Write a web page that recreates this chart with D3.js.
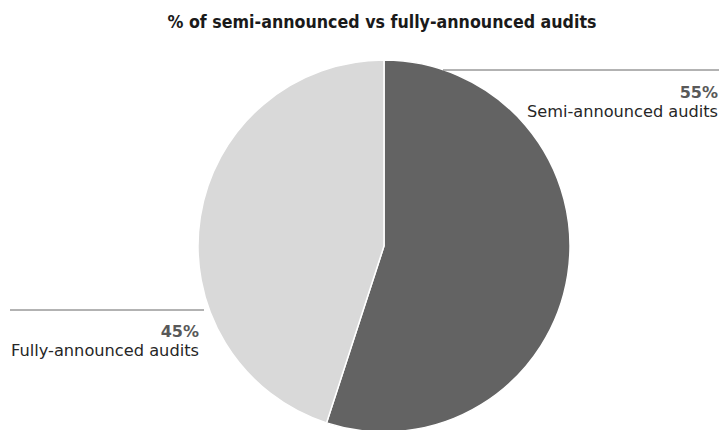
<!DOCTYPE html>
<html>
<head>
<meta charset="utf-8">
<script src="https://cdn.jsdelivr.net/npm/d3@7"></script>
<style>
  html, body { margin: 0; padding: 0; background: #fff; }
  svg { display: block; }
  text { font-family: "DejaVu Sans", "Liberation Sans", sans-serif; }
</style>
</head>
<body>
<svg id="chart" width="721" height="430"></svg>
<script>
// Audit share by announcement type (percent)
const categories = ["Semi-announced audits", "Fully-announced audits"];
const values = [55, 45];
const colors = ["#636363", "#d9d9d9"];
const title = "% of semi-announced vs fully-announced audits";

const svg = d3.select("#chart");
const cx = 384, cy = 246, r = 186;

svg.append("text")
  .attr("x", 382).attr("y", 28)
  .attr("text-anchor", "middle")
  .attr("font-size", 17).attr("font-weight", "bold")
  .attr("fill", "#1a1a1a")
  .attr("textLength", 429).attr("lengthAdjust", "spacingAndGlyphs")
  .text(title);

const pie = d3.pie().sort(null).value(d => d);
const arc = d3.arc().innerRadius(0).outerRadius(r);
const arcs = pie(values);

const g = svg.append("g").attr("transform", `translate(${cx},${cy})`);
g.selectAll("path").data(arcs).join("path")
  .attr("d", arc)
  .attr("fill", (d, i) => colors[i])
  .attr("stroke", "#fff").attr("stroke-width", 1.5);

// Label blocks: leader line, bold percentage, category name
const labels = [
  { x1: 443, x2: 719, ly: 70, tx: 718, anchor: "end", py: 98, ny: 117, nw: 191 },
  { x1: 10, x2: 204, ly: 310, tx: 199, anchor: "end", py: 337, ny: 356, nw: 188 }
];

labels.forEach((L, i) => {
  svg.append("line")
    .attr("x1", L.x1).attr("x2", L.x2)
    .attr("y1", L.ly).attr("y2", L.ly)
    .attr("stroke", "#666").attr("stroke-width", 1);
  svg.append("text")
    .attr("x", L.tx).attr("y", L.py)
    .attr("text-anchor", L.anchor)
    .attr("font-size", 16).attr("font-weight", "bold")
    .attr("fill", "#595959")
    .text(d3.format(".0f")(arcs[i].data) + "%");
  svg.append("text")
    .attr("x", L.tx).attr("y", L.ny)
    .attr("text-anchor", L.anchor)
    .attr("font-size", 16)
    .attr("fill", "#262626")
    .attr("textLength", L.nw).attr("lengthAdjust", "spacingAndGlyphs")
    .text(categories[i]);
});
</script>
</body>
</html>
